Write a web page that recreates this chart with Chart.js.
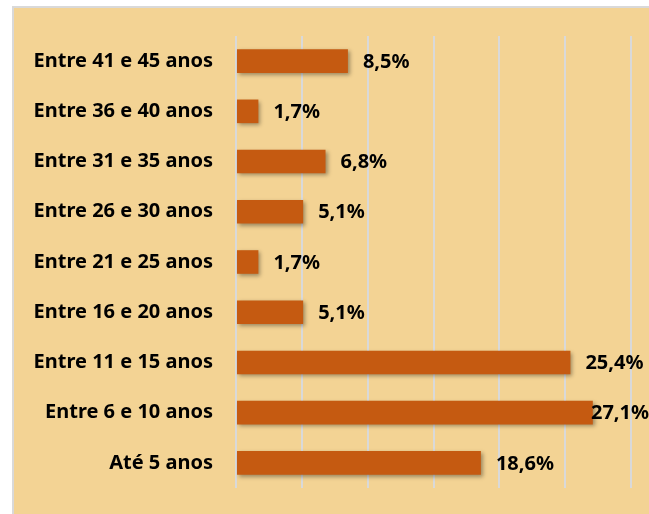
<!DOCTYPE html>
<html><head><meta charset="utf-8">
<script src="https://cdn.jsdelivr.net/npm/chart.js@4"></script>
<style>html,body{margin:0;padding:0;background:#fff}#wrap{width:649px;height:514px}</style>
</head><body><div id="wrap"><canvas id="c" width="649" height="514"></canvas></div>
<script>
const categories = ["Entre 41 e 45 anos","Entre 36 e 40 anos","Entre 31 e 35 anos","Entre 26 e 30 anos","Entre 21 e 25 anos","Entre 16 e 20 anos","Entre 11 e 15 anos","Entre 6 e 10 anos","Até 5 anos"];
const values = [8.5,1.7,6.8,5.1,1.7,5.1,25.4,27.1,18.6];
const valueLabels = ["8,5%","1,7%","6,8%","5,1%","1,7%","5,1%","25,4%","27,1%","18,6%"];
const FONT = "'Noto Sans'";
const bg = {
  id:'bg',
  beforeDraw(chart){
    const ctx=chart.ctx;ctx.save();
    ctx.fillStyle='#fff';ctx.fillRect(0,0,chart.width,chart.height);
    ctx.fillStyle='#F3D394';ctx.fillRect(12,6,chart.width-12,chart.height-6);
    ctx.fillStyle='#D9D9D9';ctx.fillRect(12,6,chart.width-12,2);ctx.fillRect(12,6,2,chart.height-6);
    ctx.restore();
  }
};
const shadow = {
  id:'shadow',
  beforeDatasetDraw(chart){const ctx=chart.ctx;ctx.save();ctx.shadowColor='rgba(0,0,0,0.35)';ctx.shadowBlur=4;ctx.shadowOffsetX=2;ctx.shadowOffsetY=2;},
  afterDatasetDraw(chart){chart.ctx.restore();}
};
const labels = {
  id:'vlabels',
  afterDatasetsDraw(chart){
    const ctx=chart.ctx;ctx.save();
    ctx.font='bold 20px '+FONT;ctx.fillStyle='#000';ctx.textBaseline='middle';ctx.textAlign='left';
    chart.getDatasetMeta(0).data.forEach((el,i)=>{
      const t=valueLabels[i];const w=ctx.measureText(t).width;
      let x=el.x+15; if(x+w>chart.width) x=chart.width-w;
      ctx.fillText(t,x,el.y+1);
    });
    ctx.restore();
  }
};
new Chart(document.getElementById('c'),{
  type:'bar',
  data:{labels:categories,datasets:[{data:values,backgroundColor:'#C55A11',barPercentage:0.94,categoryPercentage:0.5}]},
  options:{
    indexAxis:'y',responsive:false,animation:false,
    layout:{padding:{top:36,bottom:26,right:18,left:0}},
    plugins:{legend:{display:false},tooltip:{enabled:false}},
    scales:{
      x:{min:0,max:30,ticks:{display:false,stepSize:5},grid:{color:'#D9D9D9',lineWidth:2,drawTicks:false},border:{display:false},
         afterFit(s){s.height=0;s.paddingLeft=0;s.paddingRight=0;}},
      y:{grid:{display:false,drawTicks:false},border:{display:false},
         ticks:{color:'#000',font:{family:FONT,size:20,weight:'bold'},padding:23},
         afterFit(s){s.width=236;s.paddingTop=0;s.paddingBottom=0;}}
    }
  },
  plugins:[bg,shadow,labels]
});
</script></body></html>
